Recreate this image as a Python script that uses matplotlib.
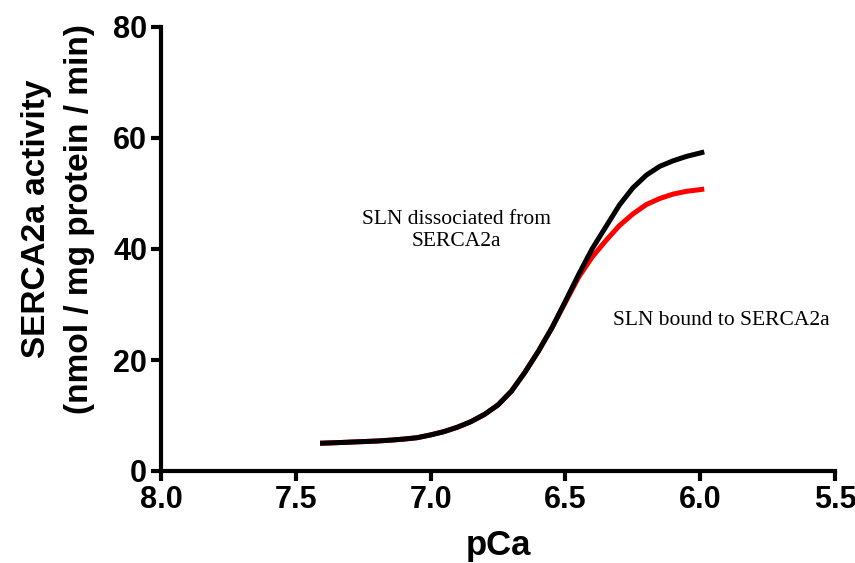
import matplotlib
matplotlib.use("Agg")
import matplotlib.pyplot as plt

# Data
pca = [7.41, 7.35, 7.30, 7.25, 7.20, 7.15, 7.10, 7.05, 7.00, 6.95, 6.90,
       6.85, 6.80, 6.75, 6.70, 6.65, 6.60, 6.55, 6.50, 6.45, 6.40, 6.35,
       6.30, 6.25, 6.20, 6.15, 6.10, 6.05, 6.00, 5.985]
dissociated = [5.0, 5.1, 5.2, 5.3, 5.4, 5.55, 5.75, 6.0, 6.5, 7.1, 7.9,
               8.9, 10.2, 11.9, 14.4, 17.8, 21.6, 25.8, 30.6, 35.5, 40.1, 44.0,
               47.9, 51.0, 53.3, 54.9, 55.9, 56.7, 57.3, 57.5]
bound = [5.0, 5.1, 5.2, 5.3, 5.4, 5.55, 5.75, 6.0, 6.5, 7.1, 7.9,
         8.9, 10.2, 11.9, 14.4, 17.8, 21.6, 25.8, 30.4, 35.0, 38.6, 41.5,
         44.2, 46.3, 48.0, 49.1, 49.9, 50.4, 50.7, 50.8]
xticks = [8.0, 7.5, 7.0, 6.5, 6.0, 5.5]
xticklabels = ["8.0", "7.5", "7.0", "6.5", "6.0", "5.5"]
yticks = [0, 20, 40, 60, 80]

sans = ["Liberation Sans", "DejaVu Sans"]
serif = ["Liberation Serif", "DejaVu Serif"]

fig = plt.figure(figsize=(8.55, 5.63), dpi=100)
ax = fig.add_axes([161/855, 92/563, (835-161)/855, (536-92)/563])

ax.plot(pca, bound, color="#ff0000", lw=3.6, solid_capstyle="butt",
        solid_joinstyle="round")
ax.plot(pca, dissociated, color="black", lw=3.6, solid_capstyle="butt",
        solid_joinstyle="round")

ax.set_xlim(8.0, 5.5)
ax.set_ylim(0, 80)
ax.set_xticks(xticks)
ax.set_xticklabels(xticklabels)
ax.set_yticks(yticks)

for s in ["top", "right"]:
    ax.spines[s].set_visible(False)
for s in ["left", "bottom"]:
    ax.spines[s].set_linewidth(3)
    ax.spines[s].set_color("black")

ax.tick_params(axis="both", width=3, length=7, direction="out", pad=3,
               labelsize=22)
for lab in ax.get_xticklabels() + ax.get_yticklabels():
    lab.set_fontfamily(sans)
    lab.set_fontweight("bold")

ax.set_xlabel("pCa", fontsize=25, fontweight="bold", family=sans, labelpad=10)
ax.set_ylabel("SERCA2a activity\n(nmol / mg protein / min)", fontsize=24,
              fontweight="bold", family=sans, linespacing=1.5)
ax.yaxis.set_label_coords(-0.098, 0.568)

ax.text(6.903, 43.3, "SLN dissociated from\nSERCA2a", ha="center", va="center",
        fontsize=15.5, family=serif, linespacing=1.25)
ax.text(6.323, 27.1, "SLN bound to SERCA2a", ha="left", va="center",
        fontsize=15.5, family=serif)

fig.savefig("out.png", dpi=100)
